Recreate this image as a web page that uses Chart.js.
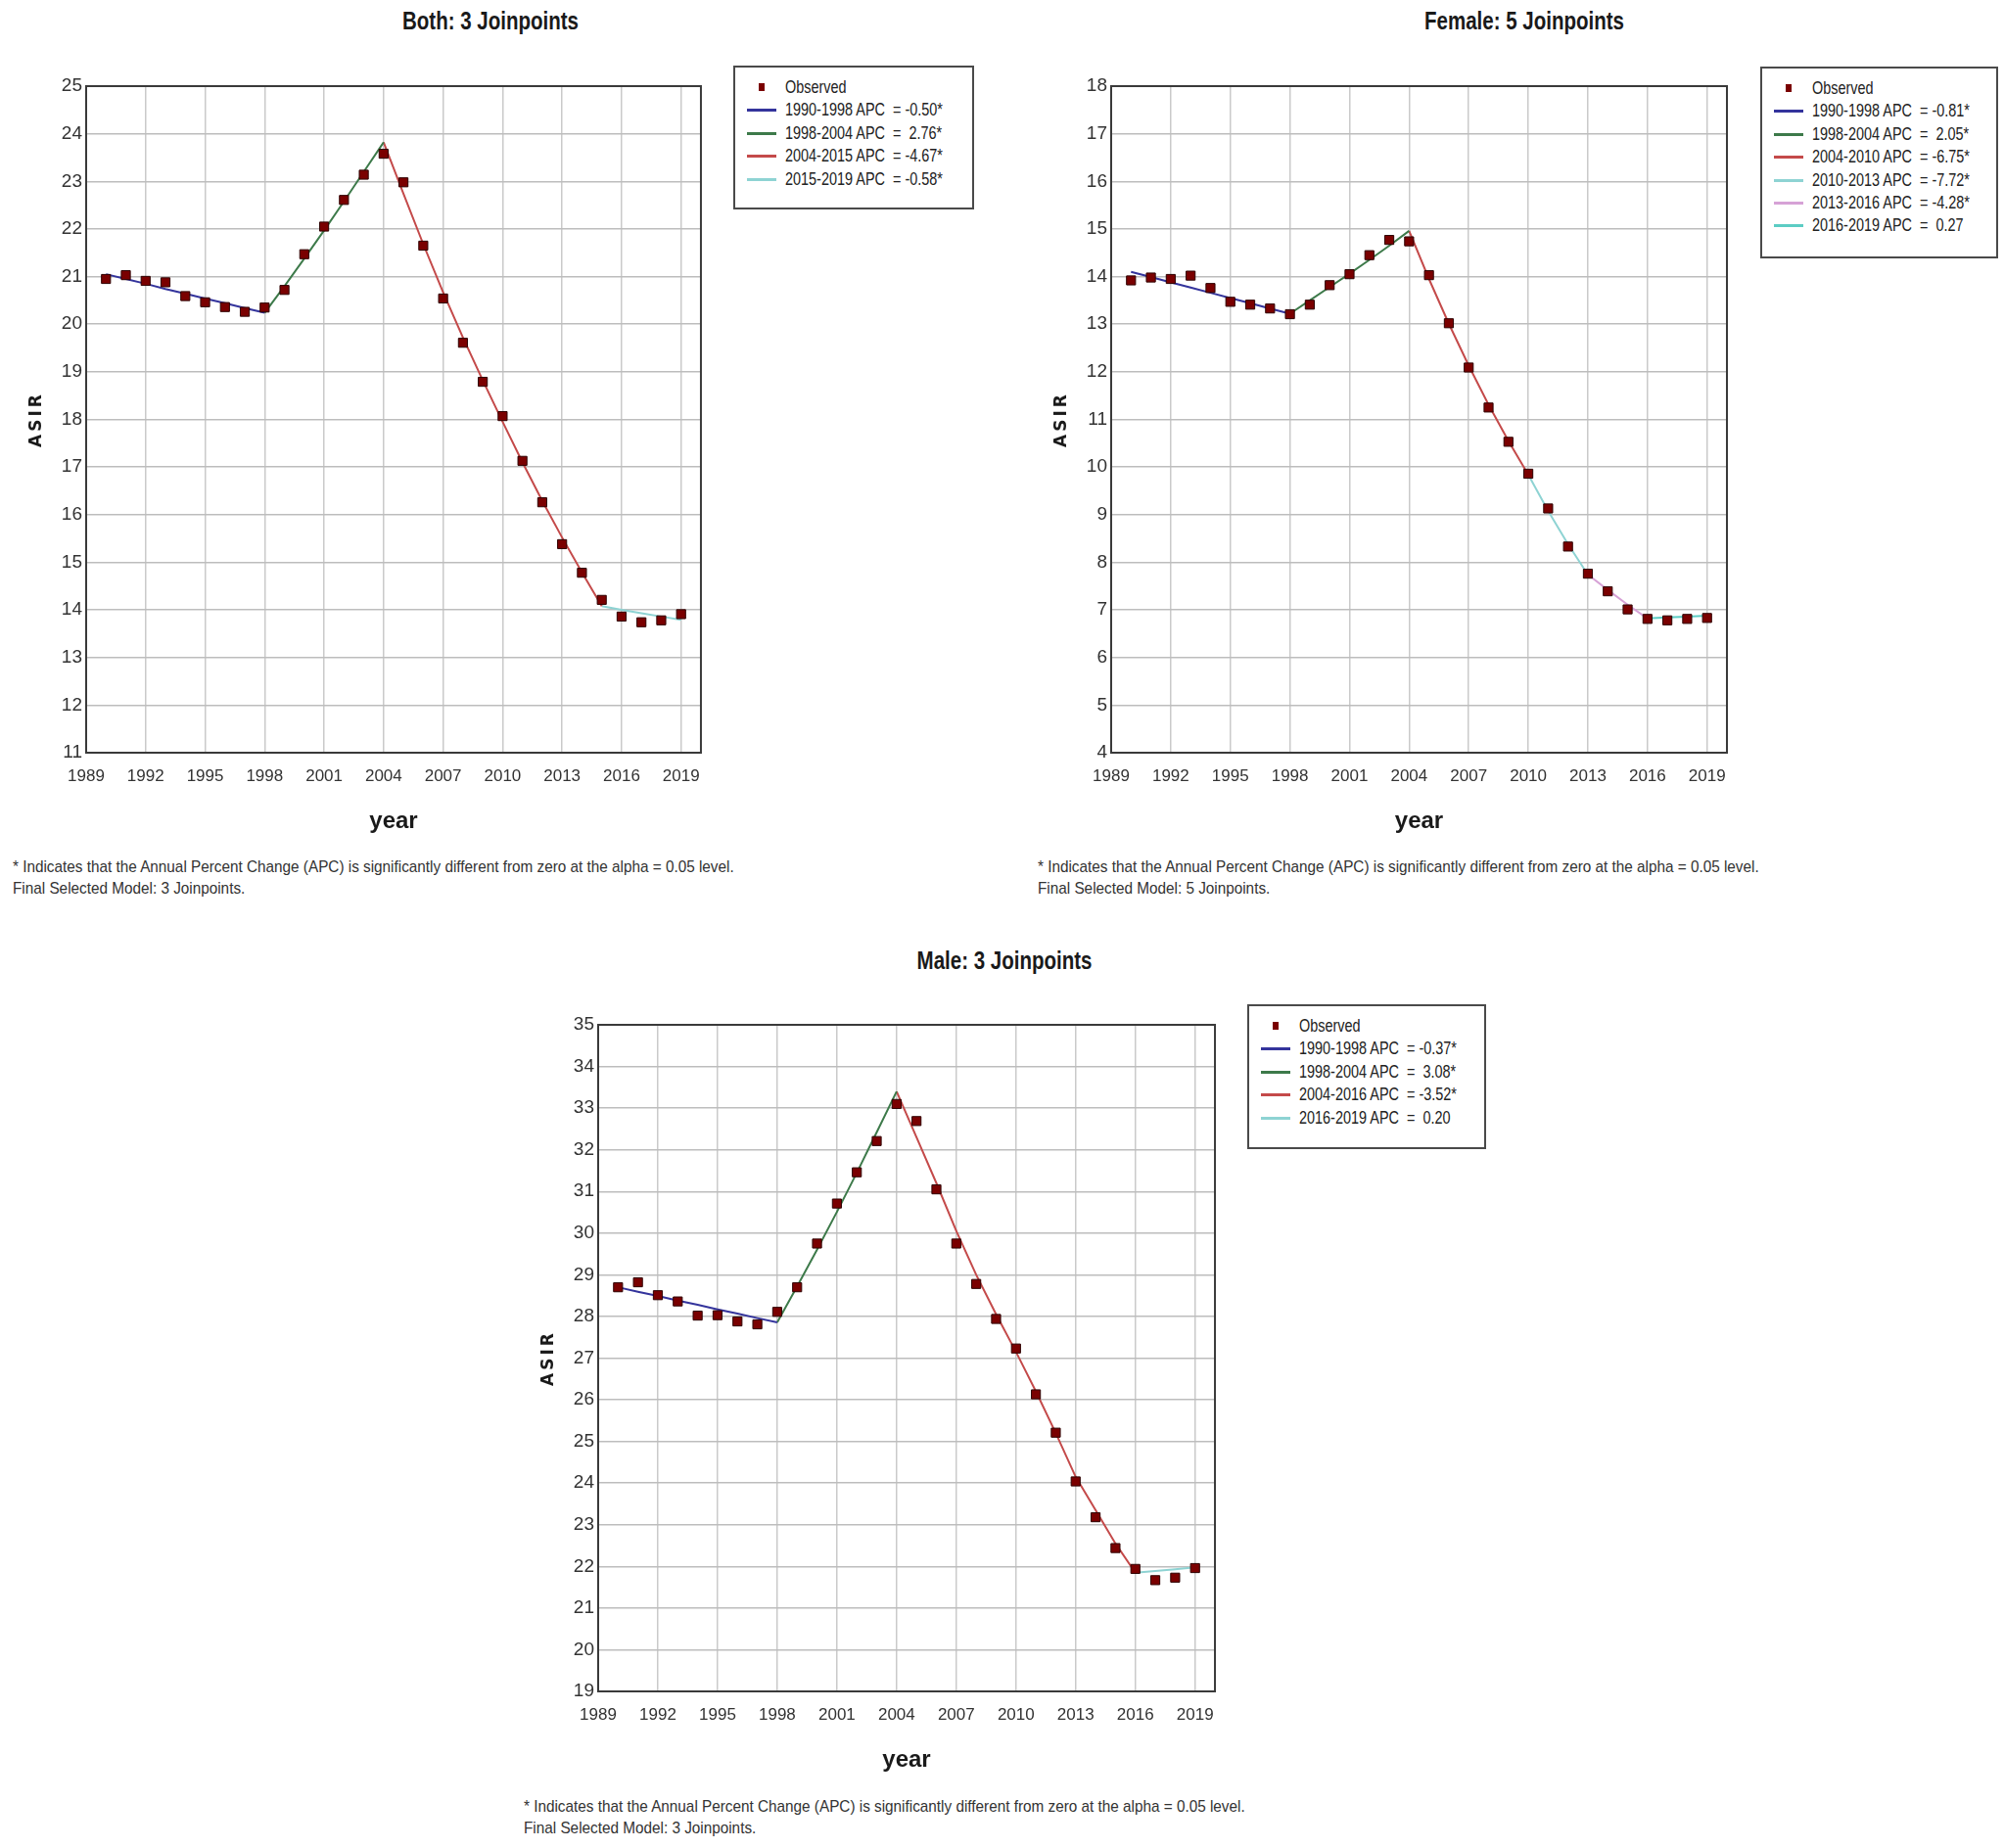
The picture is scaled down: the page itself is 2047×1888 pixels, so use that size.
<!DOCTYPE html>
<html>
<head>
<meta charset="utf-8">
<title>Joinpoint ASIR</title>
<script src="https://cdn.jsdelivr.net/npm/chart.js@4.4.1/dist/chart.umd.min.js"></script>
<style>
  html, body { margin: 0; padding: 0; background: #fff; }
  body { width: 2047px; height: 1888px; position: relative; overflow: hidden;
         font-family: 'Liberation Sans', Arial, sans-serif; color: #222; }
  .title { position: absolute; font-weight: bold; font-size: 25px; white-space: nowrap;
           transform: translate(-50%, -50%) scaleX(0.82); color: #1a1a1a; }
  .note { position: absolute; font-size: 17px; line-height: 22px; white-space: nowrap; color: #333;
          transform: scaleX(0.9); transform-origin: 0 0; }
  .legend { position: absolute; border: 2px solid #4a4a4a; background: #fff; box-sizing: border-box; }
  .legend .row { position: absolute; left: 0; right: 0; height: 22px; }
  .legend .sw { position: absolute; left: 12px; top: 10px; width: 30px; height: 3px; }
  .legend .dot { position: absolute; left: 24px; top: 7px; width: 6px; height: 8px; background: #7a0000; }
  .legend .txt { position: absolute; left: 51px; top: 0; font-size: 19px; line-height: 22px; white-space: pre;
                 color: #222; transform: scaleX(0.76); transform-origin: 0 50%; }
  .panel { position: absolute; }
</style>
</head>
<body>
<script>
// ---- data ----
var years = [1990, 1991, 1992, 1993, 1994, 1995, 1996, 1997, 1998, 1999,
             2000, 2001, 2002, 2003, 2004, 2005, 2006, 2007, 2008, 2009,
             2010, 2011, 2012, 2013, 2014, 2015, 2016, 2017, 2018, 2019];
var xTicks = [1989, 1992, 1995, 1998, 2001, 2004, 2007, 2010, 2013, 2016, 2019];

// Both
var bothObserved = [20.95, 21.03, 20.91, 20.88, 20.59, 20.46, 20.36, 20.26, 20.35, 20.72,
                    21.47, 22.05, 22.61, 23.14, 23.58, 22.98, 21.65, 20.54, 19.61, 18.79,
                    18.07, 17.13, 16.26, 15.38, 14.78, 14.21, 13.86, 13.74, 13.78, 13.91];
var bothModeled = [21.05, 20.95, 20.85, 20.74, 20.64, 20.54, 20.44, 20.34, 20.24, 20.80,
                   21.38, 21.97, 22.58, 23.20, 23.82, 22.74, 21.68, 20.67, 19.72, 18.82,
                   17.95, 17.10, 16.29, 15.52, 14.79, 14.08, 14.00, 13.93, 13.86, 13.79];
var bothSegments = [[1990, 1998], [1998, 2004], [2004, 2015], [2015, 2019]];
var bothColors = ['#34349c', '#3d7a4a', '#c44a4a', '#8ed3d3'];
var bothLabels = ['1990-1998 APC  = -0.50*', '1998-2004 APC  =  2.76*',
                  '2004-2015 APC  = -4.67*', '2015-2019 APC  = -0.58*'];

// Female
var femaleObserved = [13.92, 13.98, 13.95, 14.02, 13.76, 13.47, 13.41, 13.33, 13.21, 13.41,
                      13.82, 14.05, 14.45, 14.77, 14.74, 14.03, 13.02, 12.09, 11.25, 10.53,
                      9.86, 9.13, 8.33, 7.76, 7.39, 7.01, 6.81, 6.78, 6.81, 6.83];
var femaleModeled = [14.10, 13.99, 13.88, 13.77, 13.66, 13.55, 13.44, 13.33, 13.22, 13.50,
                     13.78, 14.06, 14.35, 14.65, 14.96, 13.95, 13.01, 12.13, 11.31, 10.55,
                     9.84, 9.08, 8.38, 7.74, 7.42, 7.11, 6.82, 6.84, 6.86, 6.88];
var femaleSegments = [[1990, 1998], [1998, 2004], [2004, 2010], [2010, 2013], [2013, 2016], [2016, 2019]];
var femaleColors = ['#34349c', '#3d7a4a', '#c44a4a', '#8ed3d3', '#d6a2d6', '#5ccdc4'];
var femaleLabels = ['1990-1998 APC  = -0.81*', '1998-2004 APC  =  2.05*', '2004-2010 APC  = -6.75*',
                    '2010-2013 APC  = -7.72*', '2013-2016 APC  = -4.28*', '2016-2019 APC  =  0.27'];

// Male
var maleObserved = [28.70, 28.82, 28.51, 28.36, 28.02, 28.03, 27.88, 27.81, 28.11, 28.70,
                    29.75, 30.71, 31.46, 32.21, 33.10, 32.69, 31.05, 29.75, 28.78, 27.94,
                    27.23, 26.13, 25.21, 24.04, 23.18, 22.44, 21.94, 21.67, 21.73, 21.96];
var maleModeled = [28.70, 28.59, 28.49, 28.38, 28.28, 28.17, 28.07, 27.96, 27.86, 28.72,
                   29.60, 30.51, 31.45, 32.42, 33.40, 32.30, 31.20, 30.05, 29.00, 28.05,
                   27.15, 26.20, 25.20, 24.15, 23.35, 22.55, 21.85, 21.89, 21.93, 21.98];
var maleSegments = [[1990, 1998], [1998, 2004], [2004, 2016], [2016, 2019]];
var maleColors = ['#34349c', '#3d7a4a', '#c44a4a', '#8ed3d3'];
var maleLabels = ['1990-1998 APC  = -0.37*', '1998-2004 APC  =  3.08*',
                  '2004-2016 APC  = -3.52*', '2016-2019 APC  =  0.20'];

var footnote = '* Indicates that the Annual Percent Change (APC) is significantly different from zero at the alpha = 0.05 level.';

// ---- helpers ----
var SANS = "'Liberation Sans', Arial, sans-serif";

var framePlugin = {
    id: 'frame',
    afterLayout: function (chart) {
        // spread the letters of the rotated y title a little, like the original
        var s = chart.scales.y;
        if (s && !s._spaced) {
            var orig = s.drawTitle;
            s.drawTitle = function () {
                chart.ctx.save();
                chart.ctx.letterSpacing = '3px';
                orig.call(s);
                chart.ctx.restore();
            };
            s._spaced = true;
        }
    },
    beforeDatasetsDraw: function (chart) {
        var a = chart.chartArea, ctx = chart.ctx;
        ctx.save();
        ctx.strokeStyle = '#3a3a3a';
        ctx.lineWidth = 2;
        ctx.strokeRect(a.left, a.top, a.right - a.left, a.bottom - a.top);
        ctx.restore();
    }
};

function addText(cls, text, x, y) {
    var d = document.createElement('div');
    d.className = cls;
    d.textContent = text;
    d.style.left = x + 'px';
    d.style.top = y + 'px';
    document.body.appendChild(d);
    return d;
}

function addLegend(box, labels, colors) {
    var lg = document.createElement('div');
    lg.className = 'legend';
    lg.style.left = box[0] + 'px';
    lg.style.top = box[1] + 'px';
    lg.style.width = box[2] + 'px';
    lg.style.height = box[3] + 'px';
    var rows = ['Observed'].concat(labels);
    rows.forEach(function (t, i) {
        var r = document.createElement('div');
        r.className = 'row';
        r.style.top = (9 + i * 23.4) + 'px';
        var mark = document.createElement('div');
        if (i === 0) {
            mark.className = 'dot';
        } else {
            mark.className = 'sw';
            mark.style.background = colors[i - 1];
        }
        var s = document.createElement('div');
        s.className = 'txt';
        s.textContent = t;
        r.appendChild(mark);
        r.appendChild(s);
        lg.appendChild(r);
    });
    document.body.appendChild(lg);
}

function makeChart(plot, yMin, yMax, observed, modeled, segments, colors) {
    var yW = 80, padTop = 16, padRight = 12, xH = 89;
    var L = plot[0], T = plot[1], R = plot[2], B = plot[3];
    var w = Math.round(R - L + yW + padRight), h = Math.round(B - T + padTop + xH);
    var wrap = document.createElement('div');
    wrap.className = 'panel';
    wrap.style.left = (L - yW) + 'px';
    wrap.style.top = (T - padTop) + 'px';
    var cv = document.createElement('canvas');
    cv.width = w;
    cv.height = h;
    wrap.appendChild(cv);
    document.body.appendChild(wrap);

    var datasets = [{
        label: 'Observed',
        data: years.map(function (yr, i) { return { x: yr, y: observed[i] }; }),
        pointStyle: 'rect',
        pointRadius: 6.5,
        backgroundColor: '#7a0000',
        borderColor: '#2e0000',
        borderWidth: 1,
        showLine: false
    }];
    segments.forEach(function (seg, k) {
        var pts = [];
        years.forEach(function (yr, i) {
            if (yr >= seg[0] && yr <= seg[1]) pts.push({ x: yr, y: modeled[i] });
        });
        datasets.push({
            label: seg[0] + '-' + seg[1],
            data: pts,
            showLine: true,
            borderColor: colors[k],
            borderWidth: 2,
            pointRadius: 0,
            fill: false
        });
    });

    return new Chart(cv, {
        type: 'scatter',
        data: { datasets: datasets },
        options: {
            responsive: false,
            animation: false,
            layout: { padding: { top: padTop, right: padRight, left: 0, bottom: 0 } },
            plugins: { legend: { display: false }, tooltip: { enabled: false } },
            scales: {
                x: {
                    type: 'linear',
                    min: 1989,
                    max: 2020,
                    afterBuildTicks: function (s) {
                        s.ticks = xTicks.map(function (v) { return { value: v }; });
                    },
                    afterFit: function (s) { s.height = xH; },
                    ticks: {
                        autoSkip: false, maxRotation: 0, padding: 14, color: '#333',
                        font: { family: SANS, size: 17 },
                        callback: function (v) { return String(v); }
                    },
                    grid: { color: '#cacaca', lineWidth: 1.5, drawTicks: false },
                    border: { display: false },
                    title: {
                        display: true, text: 'year', color: '#1a1a1a',
                        font: { family: SANS, size: 24, weight: 'bold' },
                        padding: { top: 0, bottom: 4 }
                    }
                },
                y: {
                    min: yMin,
                    max: yMax,
                    afterFit: function (s) { s.width = yW; },
                    ticks: {
                        stepSize: 1, autoSkip: false, padding: 4, color: '#333',
                        font: { family: SANS, size: 19 }
                    },
                    grid: { color: '#bdbdbd', lineWidth: 1.5, drawTicks: false },
                    border: { display: false },
                    title: {
                        display: true, text: 'ASIR', color: '#1a1a1a',
                        font: { family: "'DejaVu Sans', sans-serif", size: 17, weight: 'bold' },
                        padding: { top: 19, bottom: 0 }
                    }
                }
            }
        },
        plugins: [framePlugin]
    });
}

// ---- Both ----
addText('title', 'Both: 3 Joinpoints', 501, 21);
makeChart([87.7, 87.6, 717, 768.7], 11, 25, bothObserved, bothModeled, bothSegments, bothColors);
addLegend([749, 67, 246, 147], bothLabels, bothColors);
addText('note', footnote, 13, 875);
addText('note', 'Final Selected Model: 3 Joinpoints.', 13, 897);

// ---- Female ----
addText('title', 'Female: 5 Joinpoints', 1557, 21);
makeChart([1135, 87.6, 1765, 768.7], 4, 18, femaleObserved, femaleModeled, femaleSegments, femaleColors);
addLegend([1798, 68, 243, 196], femaleLabels, femaleColors);
addText('note', footnote, 1060, 875);
addText('note', 'Final Selected Model: 5 Joinpoints.', 1060, 897);

// ---- Male ----
addText('title', 'Male: 3 Joinpoints', 1026, 981);
makeChart([610.7, 1047, 1241.7, 1728], 19, 35, maleObserved, maleModeled, maleSegments, maleColors);
addLegend([1274, 1026, 244, 148], maleLabels, maleColors);
addText('note', footnote, 535, 1835);
addText('note', 'Final Selected Model: 3 Joinpoints.', 535, 1857);
</script>
</body>
</html>
